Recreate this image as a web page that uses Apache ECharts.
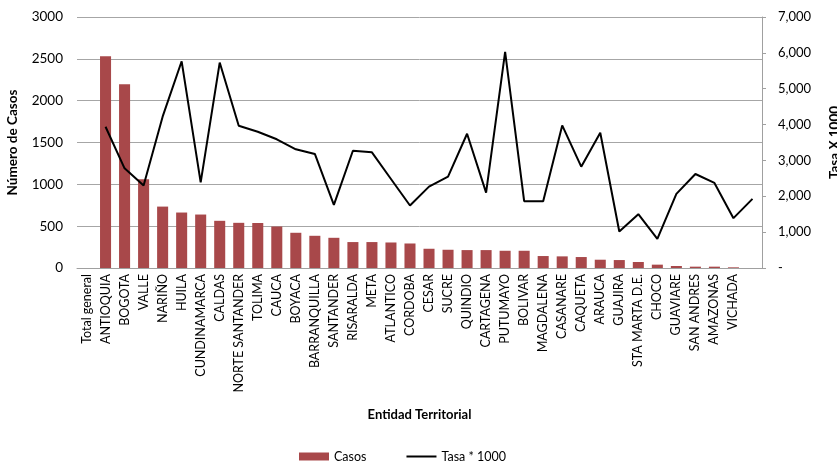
<!DOCTYPE html>
<html><head><meta charset="utf-8">
<script src="https://cdn.jsdelivr.net/npm/echarts@6/dist/echarts.min.js"></script>
<style>html,body{margin:0;padding:0;background:#fff}#c{width:837px;height:462px}</style>
</head><body><div id="c"></div>
<script>
const categories = ["Total general","ANTIOQUIA","BOGOTA","VALLE","NARIÑO","HUILA","CUNDINAMARCA","CALDAS","NORTE SANTANDER","TOLIMA","CAUCA","BOYACA","BARRANQUILLA","SANTANDER","RISARALDA","META","ATLANTICO","CORDOBA","CESAR","SUCRE","QUINDIO","CARTAGENA","PUTUMAYO","BOLIVAR","MAGDALENA","CASANARE","CAQUETA","ARAUCA","GUAJIRA","STA MARTA D.E.","CHOCO","GUAVIARE","SAN ANDRES","AMAZONAS","VICHADA",""];
const casos = [null,2530,2195,1061,734,663,639,564,540,538,496,421,385,361,310,310,305,293,230,218,214,214,206,206,143,139,131,99,95,72,40,24,16,16,8,null];
const tasa = [null,3940,2780,2300,4220,5765,2390,5730,3966,3800,3590,3310,3180,1761,3271,3226,2483,1742,2270,2548,3744,2103,6025,1863,1863,3977,2826,3771,1018,1502,815,2066,2622,2372,1390,1927];
const leftTicks = [0,500,1000,1500,2000,2500,3000];
const rightTicks = [0,1000,2000,3000,4000,5000,6000,7000];

const F = 'Lato, "Open Sans", sans-serif';
const chart = echarts.init(document.getElementById('c'));
chart.setOption({
  animation:false,
  grid:{left:77,right:75,top:17,bottom:194,containLabel:false,outerBoundsMode:'none'},
  legend:{
    left:294, top:445, itemGap:40, itemWidth:30, itemHeight:8,
    textStyle:{fontFamily:F,fontSize:12.5,color:'#000'},
    data:[{name:'Casos',icon:'rect'},{name:'Tasa * 1000',icon:'path://M0,0H30V2H0Z'}]
  },
  xAxis:{
    type:'category', data:categories,
    axisLine:{lineStyle:{color:'#a0a0a0'}},
    axisTick:{show:false},
    axisLabel:{rotate:90,interval:0,color:'#000',fontFamily:F,fontSize:12.5,margin:6},
    name:'Entidad Territorial', nameLocation:'middle', nameGap:140,
    nameTextStyle:{fontFamily:F,fontSize:13,fontWeight:'bold',color:'#000'}
  },
  yAxis:[{
    type:'value', min:0, max:3000, interval:500,
    axisLine:{show:false}, axisTick:{show:false},
    splitLine:{lineStyle:{color:'#a6a6a6',width:1}},
    axisLabel:{color:'#000',fontFamily:F,fontSize:13.5,margin:14,
      formatter:v=>leftTicks.includes(v)?String(v):''},
    name:'Número de Casos', nameLocation:'middle', nameGap:57, nameRotate:90,
    nameTextStyle:{fontFamily:F,fontSize:13.5,fontWeight:'bold',color:'#000'}
  },{
    type:'value', min:0, max:7000, interval:1000, position:'right',
    axisLine:{show:true,lineStyle:{color:'#a0a0a0'}},
    axisTick:{show:true,length:4,lineStyle:{color:'#a0a0a0'}},
    splitLine:{show:false},
    axisLabel:{color:'#000',fontFamily:F,fontSize:13,margin:16,
      formatter:v=>v===0?'-':(rightTicks.includes(v)?v.toLocaleString('en-US'):'')},
    name:'Tasa X 1000', nameLocation:'middle', nameGap:66, nameRotate:90,
    nameTextStyle:{fontFamily:F,fontSize:13.5,fontWeight:'bold',color:'#000'}
  }],
  series:[{
    name:'Casos', type:'bar', data:casos, yAxisIndex:0,
    barCategoryGap:'42%', itemStyle:{color:'#A8484A'}
  },{
    name:'Tasa * 1000', type:'line', data:tasa, yAxisIndex:1,
    symbol:'none', lineStyle:{color:'#000',width:2}, itemStyle:{color:'#000'}
  }]
});
</script></body></html>
